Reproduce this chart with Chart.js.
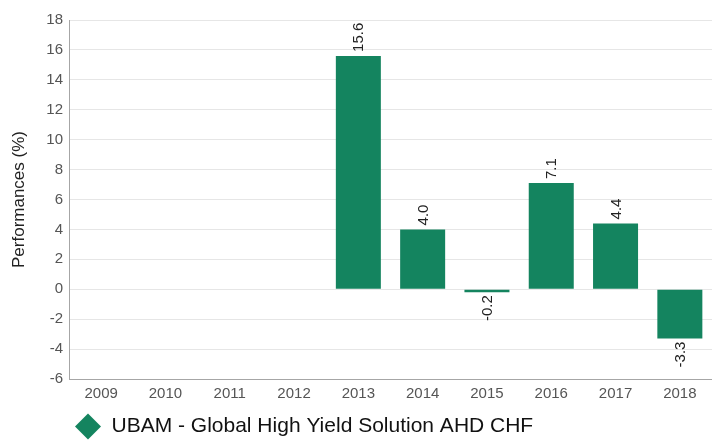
<!DOCTYPE html>
<html>
<head>
    <title>Performances</title>
    <script src="https://cdn.jsdelivr.net/npm/chart.js"></script>
    <style>
        html, body {
            margin: 0;
            padding: 0;
            background: #fff;
        }
        .chart-container {
            width: 712px;
            height: 440px;
        }
    </style>
</head>
<body>
    <div class="chart-container">
        <canvas id="perfChart"></canvas>
    </div>

    <script>
        // Data
        const years = ['2009', '2010', '2011', '2012', '2013', '2014', '2015', '2016', '2017', '2018'];
        const performances = [null, null, null, null, 15.6, 4.0, -0.2, 7.1, 4.4, -3.3];
        const seriesName = 'UBAM - Global High Yield Solution AHD CHF';
        const yTicks = [-6, -4, -2, 0, 2, 4, 6, 8, 10, 12, 14, 16, 18];

        const FONT = "'Liberation Sans', Arial, sans-serif";
        const barColor = '#14845f';

        // rotated value labels at the end of each bar
        const barLabels = {
            id: 'barLabels',
            afterDatasetsDraw(chart) {
                const ctx = chart.ctx;
                const meta = chart.getDatasetMeta(0);
                ctx.save();
                ctx.font = '15px ' + FONT;
                ctx.fillStyle = '#222';
                ctx.textBaseline = 'middle';
                meta.data.forEach((bar, i) => {
                    const v = performances[i];
                    if (v === null) return;
                    ctx.save();
                    ctx.translate(bar.x, bar.y);
                    ctx.rotate(-Math.PI / 2);
                    if (v >= 0) {
                        ctx.textAlign = 'left';
                        ctx.fillText(v.toFixed(1), 4, 1);
                    } else {
                        ctx.textAlign = 'right';
                        ctx.fillText(v.toFixed(1), -3, 1);
                    }
                    ctx.restore();
                });
                ctx.restore();
            }
        };

        // push the legend lower, close to the bottom edge
        const legendNudge = {
            id: 'legendNudge',
            afterLayout(chart) {
                if (chart.legend) {
                    chart.legend.top += 7;
                    chart.legend.bottom += 7;
                }
            }
        };

        const ctx = document.getElementById('perfChart').getContext('2d');
        const chart = new Chart(ctx, {
            type: 'bar',
            data: {
                labels: years,
                datasets: [{
                    label: seriesName,
                    data: performances,
                    backgroundColor: barColor,
                    borderWidth: 0,
                    barPercentage: 0.7,
                    categoryPercentage: 1.0
                }]
            },
            options: {
                responsive: true,
                maintainAspectRatio: false,
                animation: false,
                layout: {
                    padding: { top: 20, left: 0, right: 0, bottom: 0 }
                },
                plugins: {
                    legend: {
                        display: true,
                        position: 'bottom',
                        align: 'start',
                        fullSize: false,
                        labels: {
                            usePointStyle: true,
                            pointStyle: 'rectRot',
                            pointStyleWidth: 26,
                            boxHeight: 18.4,
                            padding: 6,
                            color: '#111',
                            font: { family: FONT, size: 21 }
                        }
                    },
                    tooltip: { enabled: false }
                },
                scales: {
                    x: {
                        grid: { display: false, drawTicks: false },
                        border: { display: true, color: '#a6a6a6', width: 1 },
                        ticks: {
                            color: '#555',
                            padding: 6,
                            font: { family: FONT, size: 15 },
                            maxRotation: 0
                        },
                        afterFit: s => { s.height = 24; }
                    },
                    y: {
                        min: -6,
                        max: 18,
                        afterBuildTicks: s => { s.ticks = yTicks.map(v => ({ value: v })); },
                        grid: {
                            color: '#e6e6e6',
                            drawTicks: false
                        },
                        border: { display: true, color: '#a6a6a6', width: 1 },
                        ticks: {
                            color: '#555',
                            padding: 6,
                            font: { family: FONT, size: 15 }
                        },
                        title: {
                            display: true,
                            text: 'Performances (%)',
                            color: '#222',
                            font: { family: FONT, size: 17 },
                            padding: { top: 9, bottom: 0 }
                        },
                        afterFit: s => { s.width = 69; }
                    }
                }
            },
            plugins: [barLabels, legendNudge]
        });
    </script>
</body>
</html>
